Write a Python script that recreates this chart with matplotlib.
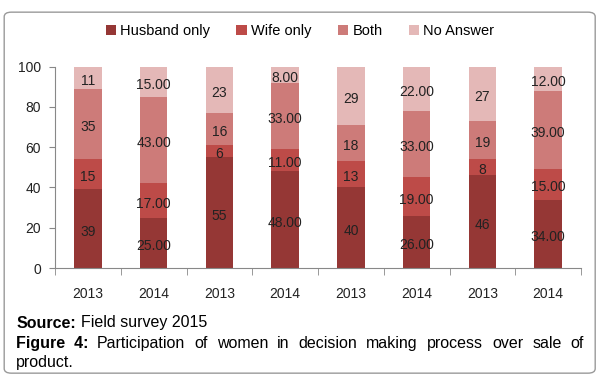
import matplotlib.pyplot as plt
from matplotlib.patches import FancyBboxPatch
import numpy as np

plt.rcParams['font.family'] = ['Liberation Sans', 'DejaVu Sans']

years = ["2013", "2014", "2013", "2014", "2013", "2014", "2013", "2014"]
series = ["Husband only", "Wife only", "Both", "No Answer"]
husband = [39, 25, 55, 48, 40, 26, 46, 34]
wife = [15, 17, 6, 11, 13, 19, 8, 15]
both = [35, 43, 16, 33, 18, 33, 19, 39]
no_answer = [11, 15, 23, 8, 29, 22, 27, 12]
colors = ["#953735", "#BD4B48", "#CD7B79", "#E4B8B7"]

fig = plt.figure(figsize=(6, 3.8), dpi=100)

# rounded frame around everything
frame = FancyBboxPatch((0.007, 0.018), 0.985, 0.950,
                       boxstyle="round,pad=0,rounding_size=0.012",
                       transform=fig.transFigure, facecolor="none",
                       edgecolor="#9a9a9a", linewidth=1.0, zorder=-1)
fig.patches.append(frame)

ax = fig.add_axes([0.0917, 0.2947, 0.8767, 0.5298])
x = np.arange(len(years))
bottom = np.zeros(len(years))
for name, vals, col in zip(series, [husband, wife, both, no_answer], colors):
    vals = np.array(vals)
    ax.bar(x, vals, width=0.42, bottom=bottom, color=col, label=name)
    for i, v in enumerate(vals):
        txt = str(v) if years[i] == "2013" else "%.2f" % v
        ax.text(x[i], bottom[i] + v / 2 - 1.5, txt, ha="center", va="center",
                fontsize=10, color="#222222")
    bottom += vals

ax.set_xlim(-0.5, len(years) - 0.5)
ax.set_ylim(0, 100)
ax.set_yticks(range(0, 101, 20))
ax.set_xticks(x)
ax.set_xticklabels(years)
ax.set_xticks(np.arange(-0.5, len(years)), minor=True)
ax.tick_params(axis="x", which="major", length=0, pad=14, labelsize=10,
               colors="#222222")
ax.tick_params(axis="x", which="minor", length=5, color="#888888")
ax.tick_params(axis="y", length=4, color="#888888", labelsize=10,
               colors="#222222", pad=6)
for s in ["top", "right"]:
    ax.spines[s].set_visible(False)
for s in ["left", "bottom"]:
    ax.spines[s].set_color("#888888")

fig.legend(loc="center", bbox_to_anchor=(0.5, 0.918), ncol=4, frameon=False,
           fontsize=10.5, handlelength=0.7, handleheight=0.7, handletextpad=0.3,
           columnspacing=1.8)

# caption
fig.text(0.027, 0.150, "Source:", fontsize=11.5, fontweight="bold", va="center")
fig.text(0.135, 0.150, "Field survey 2015", fontsize=11.5, va="center")
fig.text(0.027, 0.097, "Figure  4:", fontsize=11.5, fontweight="bold", va="center")

# justified caption line
words = "Participation of women in decision making process over sale of".split()
renderer = fig.canvas.get_renderer()
left_px, right_px = 97, 584
arts = [fig.text(0, 0.097, w, fontsize=11.5, va="center") for w in words]
widths = [a.get_window_extent(renderer).width for a in arts]
gap = (right_px - left_px - sum(widths)) / (len(words) - 1)
pos = left_px
for a, w in zip(arts, widths):
    a.set_x(pos / 600)
    pos += w + gap
fig.text(0.027, 0.045, "product.", fontsize=11.5, va="center")

fig.savefig("out.png", dpi=100)
